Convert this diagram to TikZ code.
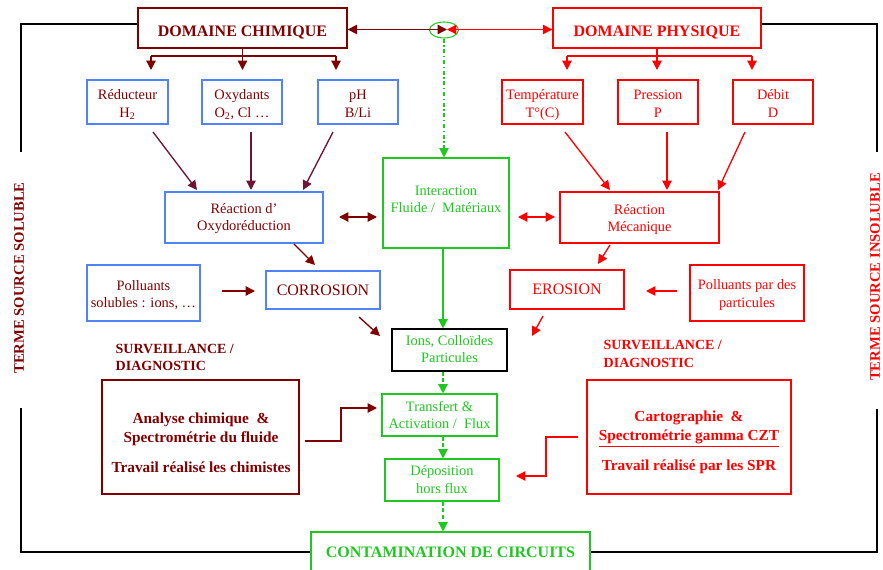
\documentclass[tikz,border=0pt]{standalone}
\usepackage{fontspec}
\setmainfont{Liberation Serif}
\usetikzlibrary{arrows.meta,calc,shapes.geometric}
\definecolor{dred}{RGB}{128,0,0}
\definecolor{bred}{RGB}{255,0,0}
\definecolor{bblue}{RGB}{80,130,250}
\definecolor{bgreen}{RGB}{30,200,30}
\definecolor{purp}{RGB}{110,20,55}
\newcommand\mylines[2][1.5pt]{\raisebox{-#1}[\height][\depth]{\begin{tabular}{@{}c@{}}#2\end{tabular}}}
\newcommand\lowtitle[1]{\raisebox{-3.2pt}[\height][\depth]{#1}}
\begin{document}
\begin{tikzpicture}[x=0.75pt,y=-0.75pt,
  >={Triangle[length=7pt,width=7pt]},
  font=\fontsize{10.8}{13}\selectfont,
  box/.style={draw, inner sep=0pt, align=center, line width=0.8pt},
  bb/.style={box, draw=bblue, text=dred},
  rb/.style={box, draw=bred, text=bred},
  gb/.style={box, draw=bgreen, text=bgreen},
  sz/.style 2 args={minimum width=#1, minimum height=#2},
  arr/.style={->, line width=1pt},
  bigfont/.style={font=\bfseries\fontsize{12}{14}\selectfont},
  boldtxt/.style={align=center, font=\bfseries\fontsize{11.5}{14.25}\selectfont}]
\useasboundingbox (0,0) rectangle (883,570);

% top domain boxes
\node[box, draw=dred, text=dred, line width=1pt, bigfont, sz={156.75pt}{30pt}] (chim) at (242.5,28) {\lowtitle{DOMAINE CHIMIQUE}};
\node[box, draw=bred, text=bred, line width=1pt, bigfont, sz={156pt}{30pt}] (phys) at (657,28) {\lowtitle{DOMAINE PHYSIQUE}};
\node[draw=bgreen, ellipse, line width=0.8pt, minimum width=21.75pt, minimum height=12pt, inner sep=0pt] (ell) at (444,30) {};
\coordinate (mid) at (447,29.5);

% parameter boxes
\node[bb, sz={60.75pt}{33pt}] (redu) at (127.5,102) {\mylines[2.4pt]{Réducteur\\H\textsubscript{2}}};
\node[bb, sz={60pt}{33pt}] (oxy) at (242,102) {\mylines[2.4pt]{Oxydants\\O\textsubscript{2}, Cl …}};
\node[bb, sz={60pt}{33pt}] (ph) at (358,102) {\mylines[2.4pt]{pH\\B/Li}};
\node[rb, sz={60.75pt}{33pt}] (temp) at (542.5,102) {\mylines[2.4pt]{Température\\T°(C)}};
\node[rb, sz={60pt}{33pt}] (pres) at (658,102) {\mylines[2.4pt]{Pression\\P}};
\node[rb, sz={60pt}{33pt}] (debit) at (773,102) {\mylines[2.4pt]{Débit\\D}};

% reaction boxes
\node[bb, sz={118.5pt}{38.25pt}] (oxydo) at (244,217.5) {\mylines[1pt]{Réaction d’\\Oxydoréduction}};
\node[gb, sz={94.5pt}{67.5pt}] (inter) at (446,203) {\mylines[-1.8pt]{Interaction\\Fluide /\ \ Matériaux}};
\node[rb, sz={119.25pt}{38.25pt}] (meca) at (639.5,217.5) {\mylines[1.6pt]{Réaction\\Mécanique}};

\node[bb, sz={84.75pt}{42pt}] (psol) at (143.5,293) {\mylines[1.8pt]{Polluants\\solubles : ions, …}};
\node[bb, sz={85.5pt}{28.5pt}, font=\fontsize{12}{14}\selectfont] (corr) at (323,290) {CORROSION};
\node[rb, sz={85.5pt}{29.25pt}, font=\fontsize{12}{14}\selectfont] (eros) at (567,289.5) {EROSION};
\node[rb, sz={85.5pt}{42pt}] (ppart) at (747,293) {\mylines[1.5pt]{Polluants par des\\particules}};

\node[box, draw=black, text=bgreen, sz={86.25pt}{31.5pt}] (ions) at (449.5,350) {\mylines[0.4pt]{Ions, Colloïdes\\Particules}};
\node[gb, sz={86.25pt}{31.5pt}] (trans) at (439.5,415) {\mylines[1pt]{Transfert \&\\Activation /\ \ Flux}};
\node[gb, sz={85.5pt}{31.5pt}] (depo) at (442,480) {\mylines[0.8pt]{Déposition\\hors flux}};
\node[gb, bigfont, sz={209.25pt}{30pt}] (cont) at (450.5,552) {CONTAMINATION DE CIRCUITS};

% surveillance
\node[anchor=west, align=left, text=dred, font=\bfseries\fontsize{10.5}{13}\selectfont] (survL) at (111,357.5) {SURVEILLANCE /\\DIAGNOSTIC};
\node[anchor=west, align=left, text=bred, font=\bfseries\fontsize{10.5}{13}\selectfont] (survR) at (599,354) {SURVEILLANCE /\\DIAGNOSTIC};

\node[box, draw=dred, sz={147.75pt}{85.5pt}] (anal) at (200.5,437) {};
\node[boldtxt, text=dred] (analT) at (201,442.5) {Analyse chimique\ \ \&\\Spectrométrie du fluide\\[8pt]Travail réalisé les chimistes};
\node[box, draw=bred, sz={153pt}{85.5pt}] (carto) at (689,437) {};
\node[boldtxt, text=bred] (cartoT) at (689,442.5) {Cartographie\ \ \&\\\underline{Spectrométrie gamma CZT}\\[8pt]Travail réalisé par les SPR};

% side texts
\node[rotate=90, text=dred, font=\bfseries\fontsize{11}{13}\selectfont] (tsol) at (19,278) {TERME SOURCE SOLUBLE};
\node[rotate=90, text=bred, font=\bfseries\fontsize{11}{13}\selectfont] (tins) at (875,277) {TERME SOURCE INSOLUBLE};

% black brackets
\draw[line width=0.8pt] ([yshift=3pt]chim.west) -| (21,152);
\draw[line width=0.8pt] (21,408) |- (cont.west);
\draw[line width=0.8pt] ([yshift=3pt]phys.east) -| (877,152);
\draw[line width=0.8pt] (877,409) |- (cont.east);

% top connections
\draw[arr, <->, dred] (chim.east |- mid) -- (mid);
\draw[arr, <->, bred] (mid) -- (phys.west |- mid);
\draw[arr, bgreen, dash dot, line width=0.8pt] (ell.south) -- (ell.south |- inter.north);

% chimique distribution
\draw[dred, line width=1pt] (chim.south) -- (chim.south |- 0,56);
\draw[dred, line width=1pt] (151,56) -- (336,56);
\draw[arr, dred] (151,56) -- (151,70);
\draw[arr, dred] (chim.south |- 0,56) -- (chim.south |- 0,70);
\draw[arr, dred] (336,56) -- (336,70);
% physique distribution
\draw[bred, line width=1pt] (phys.south) -- (phys.south |- 0,56);
\draw[bred, line width=1pt] (567,56) -- (752,56);
\draw[arr, bred] (567,56) -- (567,70);
\draw[arr, bred] (phys.south |- 0,56) -- (phys.south |- 0,70);
\draw[arr, bred] (752,56) -- (752,70);

% into oxydo
\draw[arr, purp] (153,132) -- (197,190);
\draw[arr, purp] (251,132) -- (251,190);
\draw[arr, purp] (333,132) -- (303,190);
% into meca
\draw[arr, bred] (565,132) -- (610,190);
\draw[arr, bred] (667,132) -- (667,190);
\draw[arr, bred] (745,132) -- (718,190);

% double arrows
\draw[arr, <->, dred] (339,217) -- (377,217);
\draw[arr, <->, bred] (518,217) -- (555,217);

% corrosion / erosion
\draw[arr, dred] (294,244) -- (315,265);
\draw[arr, dred] (222,291) -- (255,291);
\draw[arr, dred] (359,317) -- (380,336);
\draw[arr, bred] (610,245) -- (598,264);
\draw[arr, bred] (677,291) -- (646,291);
\draw[arr, bred] (543,316) -- (532,336);

% green chain
\coordinate (ax) at (443,0);
\draw[arr, bgreen] (ax |- inter.south) -- (ax |- ions.north);
\draw[arr, bgreen, densely dashed] (ax |- ions.south) -- (ax |- trans.north);
\draw[arr, bgreen, densely dashed] (ax |- trans.south) -- (ax |- depo.north);
\draw[arr, bgreen, densely dashed] (ax |- depo.south) -- (ax |- cont.north);

% surveillance arrows
\draw[arr, dred] (305,441) -- (341,441) -- (341,408) -- (377,408);
\draw[arr, bred] (578,437) -- (546,437) -- (546,476) -- (516,476);
\end{tikzpicture}
\end{document}
